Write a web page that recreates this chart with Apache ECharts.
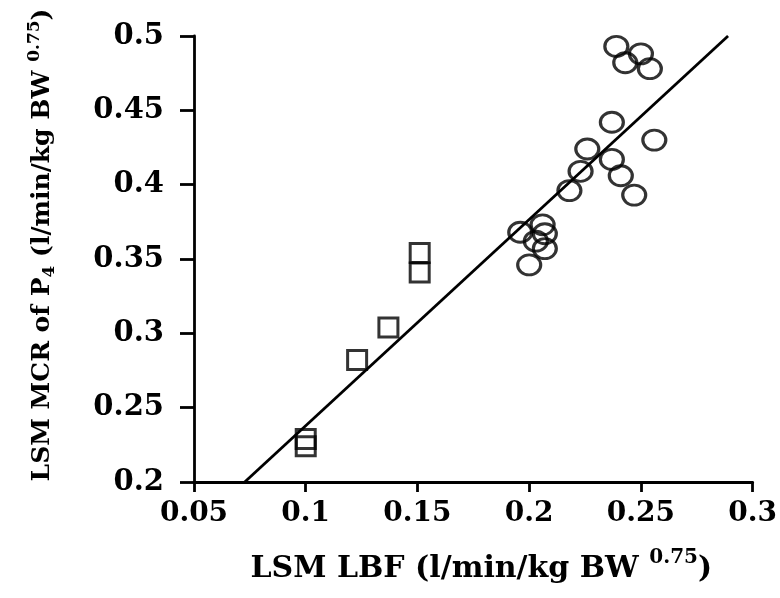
<!DOCTYPE html>
<html>
<head>
<meta charset="utf-8">
<script src="https://cdn.jsdelivr.net/npm/echarts@6/dist/echarts.min.js"></script>
<style>
  html, body { margin: 0; padding: 0; background: #ffffff; }
</style>
</head>
<body>
<div id="chart" style="width: 780px; height: 598px;"></div>
<script>
// squares (lower LBF group)
var squareX = [0.100, 0.100, 0.123, 0.137, 0.151, 0.151];
var squareY = [0.229, 0.224, 0.282, 0.304, 0.354, 0.341];

// circles (higher LBF group)
var circleX = [0.196, 0.200, 0.203, 0.206, 0.207, 0.207, 0.218, 0.223, 0.226, 0.237, 0.237, 0.241,
               0.247, 0.239, 0.243, 0.250, 0.254, 0.256];
var circleY = [0.368, 0.346, 0.362, 0.373, 0.367, 0.357, 0.396, 0.409, 0.424, 0.442, 0.417, 0.406,
               0.393, 0.493, 0.482, 0.488, 0.478, 0.430];

// regression line end points
var fitX = [0.0727, 0.289];
var fitY = [0.2, 0.5];

var xTicks = [0.05, 0.1, 0.15, 0.2, 0.25, 0.3];
var yTicks = [0.2, 0.25, 0.3, 0.35, 0.4, 0.45, 0.5];

function pairs(xs, ys) {
    var out = [];
    for (var i = 0; i < xs.length; i++) {
        out.push([xs[i], ys[i]]);
    }
    return out;
}

var font = 'DejaVu Serif';

var chart = echarts.init(document.getElementById('chart'));
chart.setOption({
    animation: false,
    backgroundColor: '#ffffff',
    grid: {
        left: 194,
        right: 25,
        top: 36,
        bottom: 116
    },
    xAxis: {
        type: 'value',
        min: 0.05,
        max: 0.3,
        interval: 0.05,
        splitLine: { show: false },
        axisLine: { onZero: false, lineStyle: { color: '#000', width: 2.8 } },
        axisTick: { length: 10, lineStyle: { color: '#000', width: 2.8 } },
        axisLabel: {
            color: '#000',
            fontFamily: font,
            fontWeight: 'bold',
            fontSize: 28,
            margin: 18,
            formatter: function (v) {
                return xTicks.indexOf(Math.round(v * 100) / 100) >= 0 ? String(Math.round(v * 100) / 100) : '';
            }
        },
        name: '{a|LSM LBF (l/min/kg BW }{sup|0.75}{a|)}',
        nameLocation: 'middle',
        nameGap: 66,
        nameTextStyle: {
            padding: [0, 0, 0, 16],
            rich: {
                a: { fontFamily: font, fontWeight: 'bold', fontSize: 30, color: '#000', lineHeight: 36, verticalAlign: 'bottom' },
                sup: { fontFamily: font, fontWeight: 'bold', fontSize: 20, color: '#000', verticalAlign: 'top' }
            }
        }
    },
    yAxis: {
        type: 'value',
        min: 0.2,
        max: 0.5,
        interval: 0.05,
        splitLine: { show: false },
        axisLine: { onZero: false, lineStyle: { color: '#000', width: 2.8 } },
        axisTick: { length: 14, lineStyle: { color: '#000', width: 2.8 } },
        axisLabel: {
            color: '#000',
            fontFamily: font,
            fontWeight: 'bold',
            fontSize: 29,
            margin: 30,
            formatter: function (v) {
                return yTicks.indexOf(Math.round(v * 100) / 100) >= 0 ? String(Math.round(v * 100) / 100) : '';
            }
        },
        name: '{a|LSM MCR of P}{sub|4}{a| (l/min/kg BW }{sup|0.75}{a|)}',
        nameLocation: 'middle',
        nameGap: 136,
        nameRotate: 90,
        nameTextStyle: {
            padding: [0, 0, 0, 28],
            rich: {
                a: { fontFamily: font, fontWeight: 'bold', fontSize: 25, color: '#000', lineHeight: 32 },
                sub: { fontFamily: font, fontWeight: 'bold', fontSize: 17, color: '#000', verticalAlign: 'bottom' },
                sup: { fontFamily: font, fontWeight: 'bold', fontSize: 17, color: '#000', verticalAlign: 'top' }
            }
        }
    },
    series: [
        {
            name: 'fit',
            type: 'line',
            data: pairs(fitX, fitY),
            symbol: 'none',
            lineStyle: { color: '#000', width: 2.8 },
            z: 1
        },
        {
            name: 'squares',
            type: 'scatter',
            data: pairs(squareX, squareY),
            symbol: 'rect',
            symbolSize: 19,
            itemStyle: { color: 'rgba(255,255,255,0)', borderColor: '#000', borderWidth: 3 },
            z: 2
        },
        {
            name: 'circles',
            type: 'scatter',
            data: pairs(circleX, circleY),
            symbol: 'circle',
            symbolSize: [23, 20],
            itemStyle: { color: 'rgba(255,255,255,0)', borderColor: '#000', borderWidth: 3 },
            z: 2
        }
    ]
});
</script>
</body>
</html>
